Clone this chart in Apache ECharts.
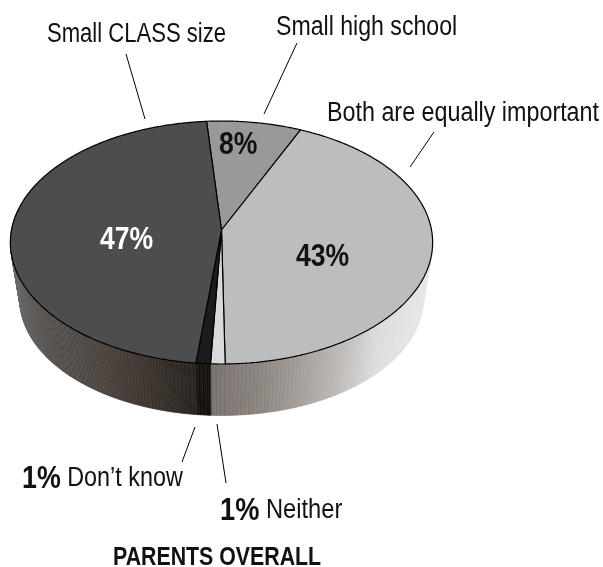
<!DOCTYPE html>
<html>
<head>
<meta charset="utf-8">
<style>html,body{margin:0;background:#fff}#main{width:603px;height:567px}</style>
<script src="https://cdn.jsdelivr.net/npm/echarts@6/dist/echarts.min.js"></script>
</head>
<body>
<div id="main"></div>
<script>
'use strict'
var categories = ['Small high school', 'Both are equally important', 'Neither', 'Don\u2019t know', 'Small CLASS size'];
var values = [8, 43, 1, 1, 47];
var title = 'PARENTS OVERALL';

var topColors = ['#999999', '#bdbdbd', '#d9d9d9', '#1c1c1c', '#4d4d4d'];
// side shading, [screen x, colour]
var sideLight = [[212, '#7a726d'], [260, '#8a837e'], [300, '#a39d98'], [340, '#bcb8b5'], [380, '#dcdcdc'], [435, '#e9e9e9']];
var sideDark = [[10, '#696969'], [40, '#56524f'], [100, '#4a423c'], [150, '#3a332d'], [196, '#28221d']];
var sideByCategory = [sideLight, sideLight, sideLight, [[0, '#17120d'], [600, '#17120d']], sideDark];

var font = '"Liberation Sans", sans-serif';
var FONT_NAME = 27, FONT_PCT = 32, FONT_SMALL_PCT = 31;
var START_DEG = -4.5, STEP = 0.5;
var total = values.reduce(function (a, b) { return a + b; }, 0);

// tilted disc: unit circle -> screen, with a little perspective
function project(deg, r, rim) {
  var a = deg * Math.PI / 180;
  var X = Math.sin(a) * r, Y = Math.cos(a) * r;
  var w = 1 + 0.103 * Y;
  if (rim === 'bottom') {
    return [221.5 + 200.5 * X / w, 287.5 - 114.8 * Y / w];
  }
  return [221.5 + 210 * X / w, 230 - 120.2 * Y / w];
}

function hex(c) {
  return [parseInt(c.substr(1, 2), 16), parseInt(c.substr(3, 2), 16), parseInt(c.substr(5, 2), 16)];
}

function shade(stops, x, bump) {
  var i = 0;
  while (i < stops.length - 2 && x > stops[i + 1][0]) i++;
  var t = (x - stops[i][0]) / (stops[i + 1][0] - stops[i][0]);
  t = Math.max(0, Math.min(1, t));
  var c0 = hex(stops[i][1]), c1 = hex(stops[i + 1][1]);
  var rgb = c0.map(function (v, k) { return Math.round(v + (c1[k] - v) * t + bump); });
  return 'rgb(' + rgb.join(',') + ')';
}

function sliceRange(i) {
  var before = 0;
  for (var k = 0; k < i; k++) before += values[k];
  return [START_DEG + before / total * 360, START_DEG + (before + values[i]) / total * 360];
}

function renderTop(params, api) {
  var i = api.value(1);
  var range = sliceRange(i);
  var pts = [project(0, 0)];
  for (var d = range[0]; d < range[1]; d += STEP) pts.push(project(d, 1));
  pts.push(project(range[1], 1));
  return {
    type: 'polygon',
    shape: { points: pts },
    style: { fill: topColors[i], stroke: '#000', lineWidth: 1.2, lineJoin: 'round' }
  };
}

function renderSide(params, api) {
  var i = api.value(1);
  var range = sliceRange(i);
  var children = [];
  for (var d = range[0]; d < range[1]; d += STEP) {
    var e = Math.min(d + STEP, range[1]);
    // only the near half of the rim shows
    if (e > 80 && d < 280) {
      var p0 = project(d, 1), p1 = project(e, 1);
      var q0 = project(d, 1, 'bottom'), q1 = project(e, 1, 'bottom');
      var x = (p0[0] + p1[0]) / 2;
      var stripe = (Math.round(d / STEP) % 2 ? 4 : -4) * (1 - Math.abs(x - 221) / 260);
      var c = shade(sideByCategory[i], x, stripe);
      children.push({
        type: 'polygon',
        shape: { points: [p0, p1, q1, q0] },
        style: { fill: c, stroke: c, lineWidth: 0.6 }
      });
    }
  }
  return { type: 'group', children: children };
}

var rows = values.map(function (v, i) { return [v, i]; });

function pct(i) { return values[i] + '%'; }

// the original type is condensed, so every label gets squeezed horizontally
function label(text, x, y, scaleX, extra) {
  var style = { text: text, fill: '#111', font: FONT_NAME + 'px ' + font, verticalAlign: 'middle' };
  for (var k in extra) style[k] = extra[k];
  return { type: 'text', silent: true, z: 10, x: x, y: y, scaleX: scaleX, style: style };
}

function leader(x1, y1, x2, y2) {
  return { type: 'line', silent: true, z: 10, shape: { x1: x1, y1: y1, x2: x2, y2: y2 }, style: { stroke: '#000', lineWidth: 1 } };
}

var pctFont = 'bold ' + FONT_PCT + 'px ' + font;
var richStyle = {
  rich: {
    b: { font: 'bold ' + FONT_SMALL_PCT + 'px ' + font, fill: '#111' },
    n: { font: FONT_NAME + 'px ' + font, fill: '#111' }
  }
};

var chart = echarts.init(document.getElementById('main'));
chart.setOption({
  animation: false,
  series: [
    { type: 'custom', coordinateSystem: 'none', silent: true, z: 1, renderItem: renderSide, data: rows },
    { type: 'custom', coordinateSystem: 'none', silent: true, z: 2, renderItem: renderTop, data: rows }
  ],
  graphic: [
    label(categories[4], 47, 35, 0.817),
    label(categories[0], 276, 28, 0.856),
    label(categories[1], 327, 114, 0.863),
    label(pct(4), 100, 240, 0.83, { font: pctFont, fill: '#fff' }),
    label(pct(0), 219, 145, 0.83, { font: pctFont }),
    label(pct(1), 296, 257, 0.83, { font: pctFont }),
    label('{b|' + pct(3) + '} {n|' + categories[3] + '}', 22, 479, 0.865, richStyle),
    label('{b|' + pct(2) + '} {n|' + categories[2] + '}', 220, 511, 0.878, richStyle),
    label(title, 113, 558, 0.82, { font: 'bold 26px ' + font }),
    leader(126, 54, 145, 119),
    leader(297, 43, 264, 114),
    leader(434, 132, 410, 167),
    leader(195, 427, 182, 462),
    leader(217, 424, 226, 483)
  ]
});
</script>
</body>
</html>
